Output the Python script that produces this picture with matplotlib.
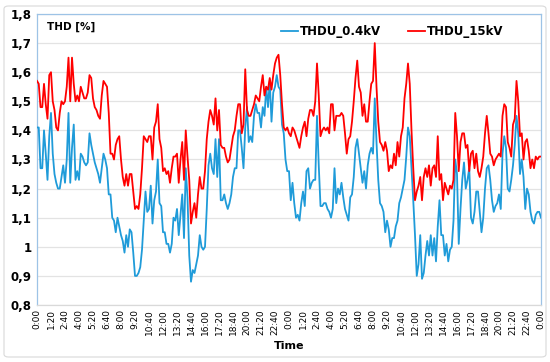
import numpy as np
import matplotlib
matplotlib.use("Agg")
import matplotlib.pyplot as plt
from matplotlib.patches import FancyBboxPatch

# ---- data (10-minute samples over two days) ----
thdu_15kv = [
    1.57, 1.56, 1.48, 1.48, 1.56, 1.49, 1.44, 1.59, 1.60, 1.50,
    1.47, 1.41, 1.40, 1.46, 1.50, 1.49, 1.50, 1.55, 1.65, 1.50,
    1.65, 1.56, 1.50, 1.52, 1.50, 1.55, 1.53, 1.51, 1.51, 1.53,
    1.59, 1.58, 1.51, 1.48, 1.47, 1.45, 1.44, 1.52, 1.57, 1.56,
    1.55, 1.46, 1.32, 1.32, 1.30, 1.35, 1.37, 1.38, 1.30, 1.24,
    1.21, 1.25, 1.21, 1.25, 1.25, 1.19, 1.13, 1.14,
    1.13, 1.18, 1.27, 1.38, 1.37, 1.36, 1.38, 1.38, 1.30, 1.41,
    1.43, 1.49, 1.37, 1.34, 1.26, 1.27, 1.25, 1.26, 1.22, 1.27,
    1.31, 1.31, 1.32, 1.22, 1.30, 1.36, 1.23, 1.40, 1.31, 1.23,
    1.08, 1.12, 1.15, 1.10, 1.18, 1.24, 1.20, 1.20, 1.26, 1.37,
    1.43, 1.47, 1.45, 1.42, 1.51, 1.40, 1.47, 1.35, 1.34, 1.34,
    1.31, 1.29, 1.30, 1.34, 1.38, 1.40, 1.45, 1.49,
    1.49, 1.39, 1.42, 1.61, 1.47, 1.45, 1.45, 1.47, 1.49, 1.52,
    1.51, 1.50, 1.55, 1.59, 1.52, 1.55, 1.54, 1.58, 1.54, 1.59,
    1.63, 1.65, 1.66, 1.59, 1.49, 1.41, 1.40, 1.41, 1.39, 1.38,
    1.41, 1.40, 1.38, 1.36, 1.34, 1.38, 1.41, 1.43, 1.38, 1.44,
    1.47, 1.47, 1.45, 1.50, 1.63, 1.52, 1.38, 1.40, 1.41, 1.40,
    1.41, 1.39, 1.49, 1.49, 1.40, 1.45, 1.45, 1.45,
    1.46, 1.45, 1.39, 1.32, 1.37, 1.38, 1.43, 1.50, 1.58, 1.64,
    1.55, 1.53, 1.45, 1.49, 1.43, 1.43, 1.50, 1.56, 1.57, 1.70,
    1.55, 1.43, 1.36, 1.35, 1.33, 1.36, 1.33, 1.26, 1.28, 1.27,
    1.32, 1.28, 1.36, 1.31, 1.38, 1.41, 1.51, 1.56, 1.63, 1.56,
    1.40, 1.27, 1.16, 1.19, 1.21, 1.24, 1.16, 1.24, 1.27, 1.24,
    1.28, 1.21, 1.27, 1.28, 1.24, 1.38, 1.23, 1.25,
    1.16, 1.22, 1.20, 1.18, 1.21, 1.20, 1.23, 1.46, 1.38, 1.26,
    1.36, 1.39, 1.39, 1.34, 1.35, 1.26, 1.32, 1.33, 1.27, 1.32,
    1.26, 1.24, 1.27, 1.31, 1.39, 1.45, 1.39, 1.32, 1.31, 1.28,
    1.30, 1.31, 1.32, 1.31, 1.45, 1.49, 1.48, 1.36, 1.34, 1.31,
    1.42, 1.44, 1.57, 1.50, 1.38, 1.39, 1.30, 1.36, 1.37, 1.33,
    1.27, 1.30, 1.27, 1.31, 1.30, 1.31, 1.31,
]

thdu_04kv = [
    1.41, 1.41, 1.27, 1.27, 1.40, 1.32, 1.23, 1.38, 1.46, 1.32,
    1.25, 1.22, 1.20, 1.20, 1.24, 1.28, 1.22, 1.30, 1.46, 1.22,
    1.34, 1.42, 1.23, 1.26, 1.23, 1.32, 1.31, 1.29, 1.28, 1.29,
    1.39, 1.35, 1.32, 1.29, 1.27, 1.25, 1.22, 1.27, 1.32, 1.30,
    1.27, 1.18, 1.18, 1.10, 1.09, 1.05, 1.10, 1.07, 1.04, 1.02,
    0.98, 1.04, 1.00, 1.06, 1.05, 0.98, 0.90, 0.90,
    0.91, 0.93, 0.99, 1.09, 1.19, 1.12, 1.13, 1.21, 1.08, 1.16,
    1.19, 1.30, 1.15, 1.14, 1.05, 1.05, 1.01, 1.01, 0.98, 1.01,
    1.10, 1.09, 1.13, 1.04, 1.11, 1.18, 1.03, 1.27, 1.17, 0.97,
    0.88, 0.92, 0.91, 0.94, 0.97, 1.04, 1.00, 0.99, 1.00, 1.13,
    1.28, 1.32, 1.27, 1.25, 1.37, 1.24, 1.37, 1.16, 1.16, 1.18,
    1.15, 1.13, 1.15, 1.18, 1.24, 1.27, 1.27, 1.40,
    1.40, 1.34, 1.27, 1.41, 1.48, 1.36, 1.38, 1.36, 1.45, 1.49,
    1.46, 1.46, 1.41, 1.48, 1.45, 1.55, 1.48, 1.57, 1.43, 1.53,
    1.55, 1.59, 1.55, 1.54, 1.42, 1.39, 1.30, 1.26, 1.26, 1.16,
    1.22, 1.15, 1.10, 1.11, 1.09, 1.15, 1.19, 1.14, 1.26, 1.27,
    1.20, 1.22, 1.23, 1.23, 1.45, 1.28, 1.14, 1.14, 1.15, 1.15,
    1.13, 1.12, 1.10, 1.13, 1.27, 1.15, 1.20, 1.18,
    1.22, 1.17, 1.13, 1.11, 1.09, 1.17, 1.18, 1.24, 1.34, 1.37,
    1.32, 1.27, 1.22, 1.26, 1.20, 1.28, 1.32, 1.34, 1.32, 1.51,
    1.36, 1.23, 1.15, 1.14, 1.12, 1.05, 1.09, 1.06, 1.00, 1.03,
    1.03, 1.07, 1.09, 1.15, 1.17, 1.20, 1.23, 1.31, 1.41, 1.38,
    1.27, 1.16, 1.04, 0.90, 0.94, 1.04, 0.89, 0.91, 0.97, 1.02,
    0.97, 1.04, 0.97, 1.03, 0.95, 1.07, 1.16, 1.04,
    1.04, 0.97, 1.01, 0.95, 0.99, 1.00, 1.09, 1.30, 1.25, 1.01,
    1.13, 1.23, 1.29, 1.20, 1.23, 1.27, 1.10, 1.08, 1.12, 1.19,
    1.19, 1.12, 1.05, 1.10, 1.20, 1.27, 1.28, 1.23, 1.16, 1.12,
    1.14, 1.15, 1.18, 1.13, 1.32, 1.38, 1.34, 1.20, 1.19, 1.23,
    1.28, 1.35, 1.45, 1.39, 1.25, 1.30, 1.24, 1.13, 1.20, 1.18,
    1.12, 1.09, 1.08, 1.11, 1.12, 1.12, 1.10,
]

day_tick_labels = ["0:00", "1:20", "2:40", "4:00", "5:20", "6:40", "8:00",
                   "9:20", "10:40", "12:00", "13:20", "14:40", "16:00",
                   "17:20", "18:40", "20:00", "21:20", "22:40"]
tick_labels = day_tick_labels * 2 + ["0:00"]
y_ticks = [0.8, 0.9, 1.0, 1.1, 1.2, 1.3, 1.4, 1.5, 1.6, 1.7, 1.8]
y_tick_labels = ["0,8", "0,9", "1", "1,1", "1,2", "1,3", "1,4", "1,5", "1,6", "1,7", "1,8"]

step_h = 10 / 60.0
t_15 = np.arange(len(thdu_15kv)) * step_h
t_04 = np.arange(len(thdu_04kv)) * step_h
tick_pos = np.arange(len(tick_labels)) * (80 / 60.0)

# ---- figure ----
fig = plt.figure(figsize=(5.5, 3.62), dpi=100)
ax = fig.add_axes([37 / 550, 1 - 305 / 362, 504 / 550, 291 / 362])

fig.patches.append(FancyBboxPatch((4 / 550, 5 / 362), 542 / 550, 351 / 362,
                                  boxstyle="round,pad=0,rounding_size=0.008",
                                  transform=fig.transFigure, fc="none",
                                  ec="#d9d9d9", lw=0.8, zorder=0))

blue = "#1f9bd9"
red = "#ff0000"
ax.plot(t_04, thdu_04kv, color=blue, lw=1.3, label="THDU_0.4kV", zorder=3)
ax.plot(t_15, thdu_15kv, color=red, lw=1.3, label="THDU_15kV", zorder=3)

ax.set_xlim(0, 48)
ax.set_ylim(0.8, 1.8)
ax.set_yticks(y_ticks)
ax.set_yticklabels(y_tick_labels, fontsize=8.5, fontweight="bold")
ax.set_xticks(tick_pos)
ax.set_xticklabels(tick_labels, rotation=90, fontsize=6.5)
ax.tick_params(axis="both", length=0, pad=4)
ax.tick_params(axis="x", pad=3)
ax.grid(axis="y", color="#e3e3e3", lw=0.9, zorder=0)
ax.set_axisbelow(True)

for s in ("left", "top", "right"):
    ax.spines[s].set_color("#9dc3e6")
    ax.spines[s].set_linewidth(0.9)
ax.spines["bottom"].set_color("#d9d9d9")
ax.spines["bottom"].set_linewidth(0.9)

ax.set_xlabel("Time", fontsize=8, fontweight="bold", labelpad=4)
ax.text(0.02, 0.955, "THD [%]", transform=ax.transAxes, fontsize=7.5,
        fontweight="bold", va="center", ha="left")

leg = ax.legend(loc="center", bbox_to_anchor=(0.705, 0.94), ncol=2,
                frameon=False, prop={"weight": "bold", "size": 8.5},
                handlelength=1.4, handletextpad=0.2, columnspacing=2.3)

fig.savefig("out.png", dpi=100)
